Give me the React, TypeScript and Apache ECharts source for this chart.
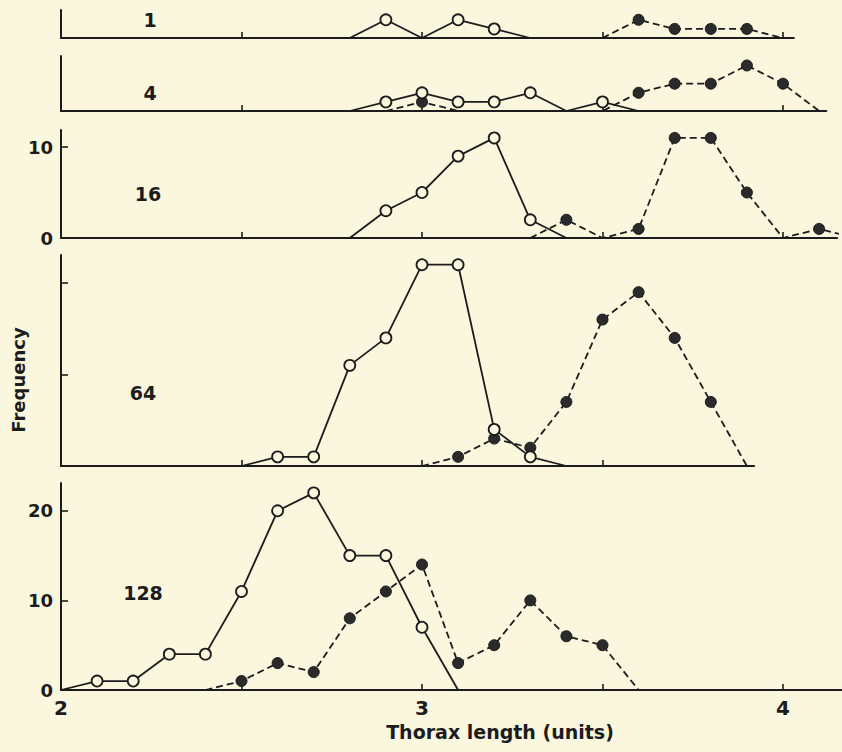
import React, { useEffect, useRef } from "react";
import * as echarts from "echarts";

// ---- data ----
const PANEL_LABELS = ["1", "4", "16", "64", "128"];

const OPEN_X_1 = [2.8, 2.9, 3.0, 3.1, 3.2, 3.3];
const OPEN_Y_1 = [0, 2, 0, 2, 1, 0];
const FILLED_X_1 = [3.5, 3.6, 3.7, 3.8, 3.9, 4.0];
const FILLED_Y_1 = [0, 2, 1, 1, 1, 0];

const OPEN_X_4 = [2.8, 2.9, 3.0, 3.1, 3.2, 3.3, 3.4, 3.5, 3.6];
const OPEN_Y_4 = [0, 1, 2, 1, 1, 2, 0, 1, 0];
const FILLED_X_4 = [2.9, 3.0, 3.1, 3.2, 3.3, 3.4, 3.5, 3.6, 3.7, 3.8, 3.9, 4.0, 4.1];
const FILLED_Y_4 = [0, 1, 0, 0, 0, 0, 0, 2, 3, 3, 5, 3, 0];

const OPEN_X_16 = [2.8, 2.9, 3.0, 3.1, 3.2, 3.3, 3.4];
const OPEN_Y_16 = [0, 3, 5, 9, 11, 2, 0];
const FILLED_X_16 = [3.3, 3.4, 3.5, 3.6, 3.7, 3.8, 3.9, 4.0, 4.1, 4.2];
const FILLED_Y_16 = [0, 2, 0, 1, 11, 11, 5, 0, 1, 0];

const OPEN_X_64 = [2.5, 2.6, 2.7, 2.8, 2.9, 3.0, 3.1, 3.2, 3.3, 3.4];
const OPEN_Y_64 = [0, 1, 1, 11, 14, 22, 22, 4, 1, 0];
const FILLED_X_64 = [3.0, 3.1, 3.2, 3.3, 3.4, 3.5, 3.6, 3.7, 3.8, 3.9];
const FILLED_Y_64 = [0, 1, 3, 2, 7, 16, 19, 14, 7, 0];

const OPEN_X_128 = [2.0, 2.1, 2.2, 2.3, 2.4, 2.5, 2.6, 2.7, 2.8, 2.9, 3.0, 3.1];
const OPEN_Y_128 = [0, 1, 1, 4, 4, 11, 20, 22, 15, 15, 7, 0];
const FILLED_X_128 = [2.4, 2.5, 2.6, 2.7, 2.8, 2.9, 3.0, 3.1, 3.2, 3.3, 3.4, 3.5, 3.6];
const FILLED_Y_128 = [0, 1, 3, 2, 8, 11, 14, 3, 5, 10, 6, 5, 0];

const X_TICKS = [2.5, 3, 3.5, 4];
const X_TICK_LABELS = [2, 3, 4];
const Y_TICKS_16 = [10];
const Y_LABELS_16 = [0, 10];
const Y_TICKS_64 = [10, 20];
const Y_TICKS_128 = [10, 20];
const Y_LABELS_128 = [0, 10, 20];

const X_AXIS_TITLE = "Thorax length (units)";
const Y_AXIS_TITLE = "Frequency";

// ---- layout / style ----
const BG = "#fbf6de";
const INK = "#1c1c1c";
const FONT = "'DejaVu Sans', sans-serif";
const LEFT = 61;
const PX_PER_UNIT = 361;

const PANELS = [
  { top: 10, height: 28, yMax: 3.08, xMax: 4.03, openX: OPEN_X_1, openY: OPEN_Y_1, fillX: FILLED_X_1, fillY: FILLED_Y_1, yTicks: [] as number[], yLabels: [] as number[], labelPos: [150, 20] },
  { top: 56, height: 55, yMax: 6.04, xMax: 4.12, openX: OPEN_X_4, openY: OPEN_Y_4, fillX: FILLED_X_4, fillY: FILLED_Y_4, yTicks: [] as number[], yLabels: [] as number[], labelPos: [150, 93] },
  { top: 130, height: 108, yMax: 11.87, xMax: 4.15, openX: OPEN_X_16, openY: OPEN_Y_16, fillX: FILLED_X_16, fillY: FILLED_Y_16, yTicks: Y_TICKS_16, yLabels: Y_LABELS_16, labelPos: [148, 194] },
  { top: 255, height: 211, yMax: 23.06, xMax: 3.92, openX: OPEN_X_64, openY: OPEN_Y_64, fillX: FILLED_X_64, fillY: FILLED_Y_64, yTicks: Y_TICKS_64, yLabels: [] as number[], labelPos: [143, 393] },
  { top: 483, height: 207, yMax: 23.1, xMax: 4.163, openX: OPEN_X_128, openY: OPEN_Y_128, fillX: FILLED_X_128, fillY: FILLED_Y_128, yTicks: Y_TICKS_128, yLabels: Y_LABELS_128, labelPos: [143, 593] },
];

function pts(xs: number[], ys: number[]) {
  return xs.map((x, i) => ({ value: [x, ys[i]], symbol: ys[i] === 0 ? "none" : "circle" }));
}

function near(v: number, list: number[]) {
  return list.some((t) => Math.abs(t - v) < 1e-6);
}

export default function App() {
  const ref = useRef<HTMLDivElement>(null);
  useEffect(() => {
    document.body.style.margin = "0";
    document.body.style.background = BG;
    if (!ref.current) return;
    const chart = echarts.init(ref.current, undefined, { renderer: "svg" });
    const last = PANELS.length - 1;

    const grid = PANELS.map((p) => ({
      left: LEFT,
      top: p.top,
      width: (p.xMax - 2) * PX_PER_UNIT,
      height: p.height,
      containLabel: false,
    }));

    const xAxis = PANELS.map((p, i) => ({
      type: "value",
      gridIndex: i,
      min: 2,
      max: p.xMax,
      interval: 0.5,
      axisLine: { show: true, onZero: false, lineStyle: { color: INK, width: 2 } },
      axisTick: { show: true, inside: true, length: 6, customValues: X_TICKS, lineStyle: { color: INK, width: 1.6 } },
      axisLabel: {
        show: i === last,
        showMaxLabel: false,
        formatter: (v: number) => (near(v, X_TICK_LABELS) ? String(Math.round(v)) : ""),
        margin: 8,
        color: INK,
        fontSize: 20,
        fontWeight: "bold",
        fontFamily: FONT,
      },
      splitLine: { show: false },
    }));

    const yAxis = PANELS.map((p, i) => ({
      type: "value",
      gridIndex: i,
      min: 0,
      max: p.yMax,
      interval: 10,
      axisLine: { show: true, lineStyle: { color: INK, width: 2 } },
      axisTick: { show: p.yTicks.length > 0, inside: true, length: 7, customValues: p.yTicks, lineStyle: { color: INK, width: 1.6 } },
      axisLabel: {
        show: p.yLabels.length > 0,
        showMaxLabel: false,
        formatter: (v: number) => (near(v, p.yLabels) ? String(Math.round(v)) : ""),
        margin: 8,
        color: INK,
        fontSize: 18,
        fontWeight: "bold",
        fontFamily: FONT,
      },
      splitLine: { show: false },
    }));

    const series: any[] = [];
    PANELS.forEach((p, i) => {
      series.push({
        type: "line",
        xAxisIndex: i,
        yAxisIndex: i,
        data: pts(p.fillX, p.fillY),
        showAllSymbol: true,
        symbolSize: 11,
        lineStyle: { color: INK, width: 1.8, type: [7, 4] },
        itemStyle: { color: "#2a2a2a", borderColor: INK, borderWidth: 1 },
        z: 2,
        clip: true,
      });
      series.push({
        type: "line",
        xAxisIndex: i,
        yAxisIndex: i,
        data: pts(p.openX, p.openY),
        showAllSymbol: true,
        symbolSize: 11,
        lineStyle: { color: INK, width: 1.8 },
        itemStyle: { color: BG, borderColor: INK, borderWidth: 1.8 },
        z: 3,
        clip: true,
      });
    });

    const graphic: any[] = PANELS.map((p, i) => ({
      type: "text",
      x: p.labelPos[0],
      y: p.labelPos[1],
      style: {
        text: PANEL_LABELS[i],
        fill: INK,
        font: `bold 19px ${FONT}`,
        textAlign: "center",
        textVerticalAlign: "middle",
      },
    }));
    graphic.push({
      type: "text",
      x: 18,
      y: 380,
      rotation: Math.PI / 2,
      style: {
        text: Y_AXIS_TITLE,
        fill: INK,
        font: `bold 18px ${FONT}`,
        textAlign: "center",
        textVerticalAlign: "middle",
      },
    });
    graphic.push({
      type: "text",
      x: 500,
      y: 732,
      style: {
        text: X_AXIS_TITLE,
        fill: INK,
        font: `bold 19px ${FONT}`,
        textAlign: "center",
        textVerticalAlign: "middle",
      },
    });

    chart.setOption({
      animation: false,
      backgroundColor: BG,
      grid,
      xAxis,
      yAxis,
      series,
      graphic,
    } as any);
    return () => chart.dispose();
  }, []);
  return <div ref={ref} style={{ width: 842, height: 752, background: BG }} />;
}
